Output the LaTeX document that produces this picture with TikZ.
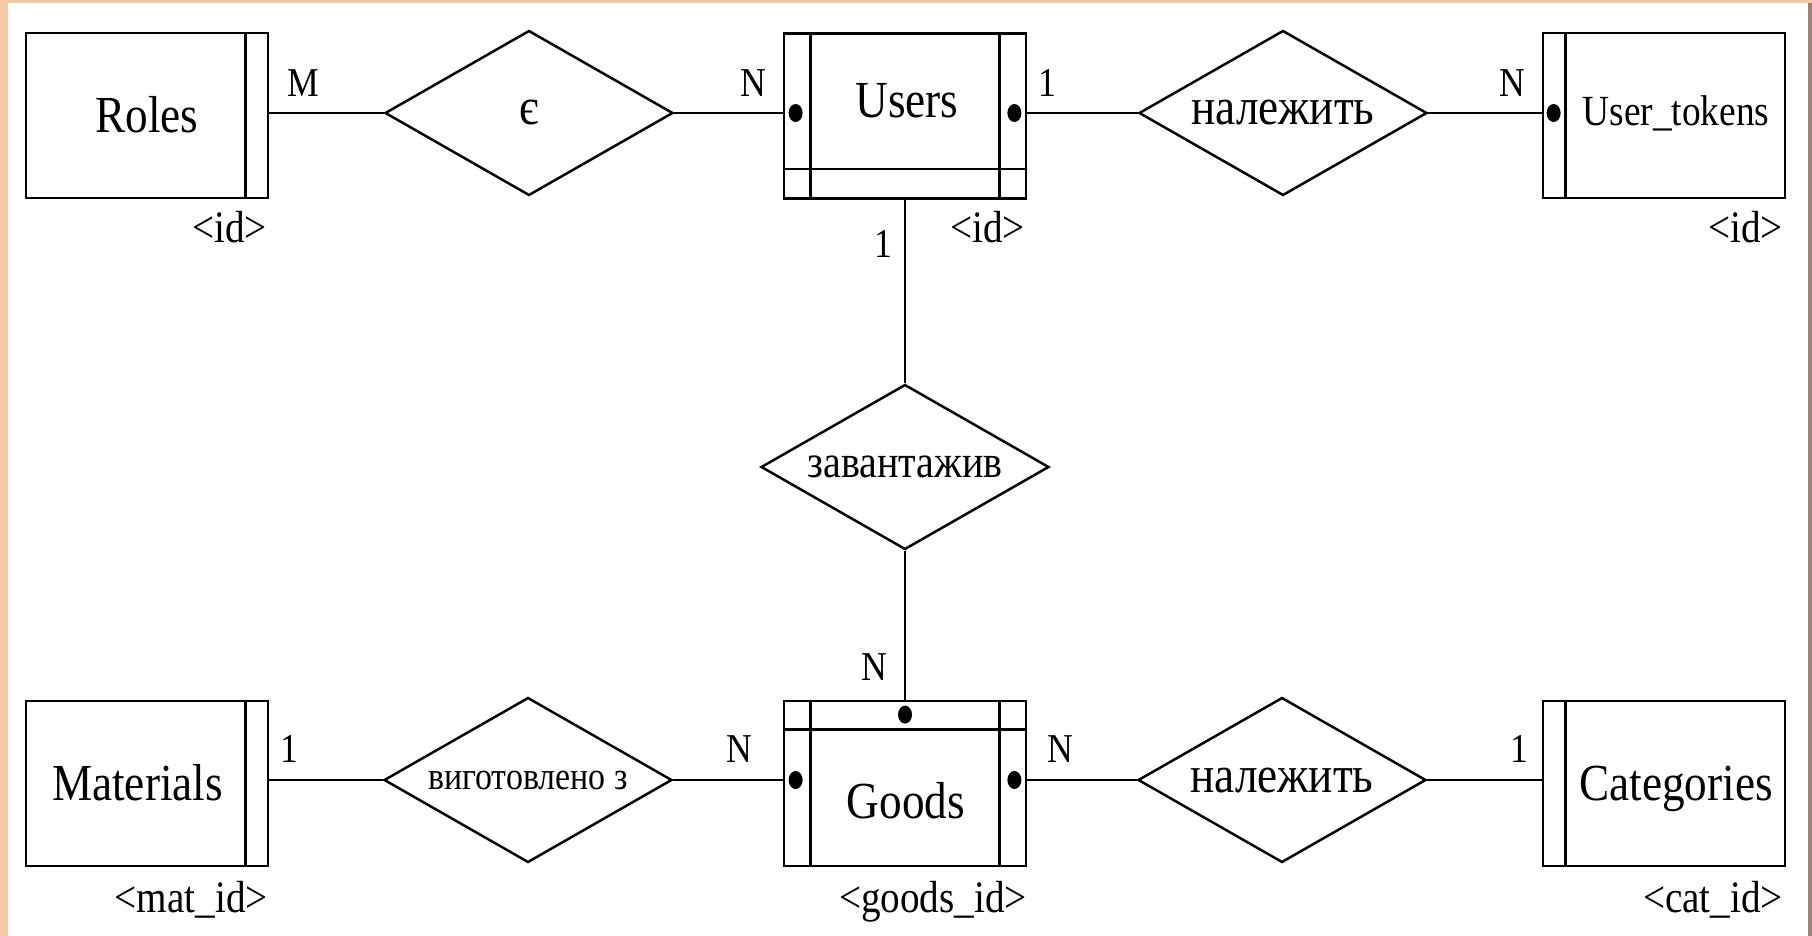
\documentclass[tikz,border=0pt]{standalone}
\usepackage{fontspec}
\setmainfont{Liberation Serif}[FakeStretch=0.87]
\usetikzlibrary{shapes.geometric,calc}
\definecolor{peach}{HTML}{F6C9A0}
\definecolor{edgebrown}{HTML}{9C8474}
\tikzset{
 ent/.style={draw, line width=2.8pt, minimum width=242pt, minimum height=165pt, inner sep=0pt},
 rel/.style={draw, diamond, aspect=1.75, line width=2.5pt, minimum width=288pt, minimum height=165pt, inner sep=0pt, font=\fontsize{52}{60}\selectfont},
 link/.style={line width=2.8pt},
 sub/.style={line width=2.4pt},
 etext/.style={anchor=base, font=\fontsize{52}{60}\selectfont, inner sep=0pt},
 card/.style={anchor=base, font=\fontsize{41}{48}\selectfont, inner sep=0pt},
 keyl/.style={anchor=base east, font=\fontsize{45}{52}\selectfont, inner sep=0pt},
 dotm/.style={fill, ellipse, minimum width=14pt, minimum height=18pt, inner sep=0pt},
}
\begin{document}
\begin{tikzpicture}[x=1pt,y=-1pt]
\useasboundingbox (0,0) rectangle (1812,936);
\fill[peach] (0,0) rectangle (1812,936);
\fill[white] (8,3) rectangle (1808,936);
\fill[edgebrown] (1808,3) rectangle (1812,936);

% entities
\node[ent] (roles) at (147,115.5) {};
\node[ent] (users) at (905,116) {};
\node[ent] (tokens) at (1664,115.5) {};
\node[ent] (materials) at (147,783.5) {};
\node[ent] (goods) at (905,783.5) {};
\node[ent] (categories) at (1664,783.5) {};

% inner lines
\draw[sub] ($(roles.north east)+(-24,0)$) -- ($(roles.south east)+(-24,0)$);
\draw[sub] ($(materials.north east)+(-24,0)$) -- ($(materials.south east)+(-24,0)$);
\draw[sub] ($(tokens.north west)+(24,0)$) -- ($(tokens.south west)+(24,0)$);
\draw[sub] ($(categories.north west)+(24,0)$) -- ($(categories.south west)+(24,0)$);
\draw[sub] ($(users.north west)+(28,0)$) -- ($(users.south west)+(28,0)$);
\draw[sub] ($(users.north east)+(-28,0)$) -- ($(users.south east)+(-28,0)$);
\draw[sub] ($(users.south west)+(0,-31)$) -- ($(users.south east)+(0,-31)$);
\draw[sub] ($(goods.north west)+(28,0)$) -- ($(goods.south west)+(28,0)$);
\draw[sub] ($(goods.north east)+(-28,0)$) -- ($(goods.south east)+(-28,0)$);
\draw[sub] ($(goods.north west)+(0,30)$) -- ($(goods.north east)+(0,30)$);

% entity texts
\node[etext] (tRoles) at (147,133) {Roles};
\node[etext] (tUsers) at (907,118) {Users};
\node[etext, font=\fontsize{43}{50}\selectfont] (tTokens) at (1676,126) {User\_tokens};
\node[etext] (tMaterials) at (137.5,800) {Materials};
\node[etext] (tGoods) at (906,818) {Goods};
\node[etext] (tCategories) at (1676,800) {Categories};

% relations
\node[rel] (r1) at (529,113) {є};
\node[rel] (r2) at (1283,113) {належить};
\node[rel, font=\fontsize{46}{54}\selectfont] (r3) at (905,467) {завантажив};
\node[rel, font=\fontsize{39}{46}\selectfont] (r4) at (528,780) {виготовлено з};
\node[rel] (r5) at (1282,780) {належить};

% connectors
\draw[link] (roles.east |- r1.west) -- (r1.west);
\draw[link] (r1.east) -- (users.west |- r1.east);
\draw[link] (users.east |- r2.west) -- (r2.west);
\draw[link] (r2.east) -- (tokens.west |- r2.east);
\draw[link] (users.south) -- (r3.north);
\draw[link] (r3.south) -- (goods.north);
\draw[link] (materials.east |- r4.west) -- (r4.west);
\draw[link] (r4.east) -- (goods.west |- r4.east);
\draw[link] (goods.east |- r5.west) -- (r5.west);
\draw[link] (r5.east) -- (categories.west |- r5.east);

% dots
\node[dotm] (d1) at ($(users.west |- r1.east)+(13,0)$) {};
\node[dotm] (d2) at ($(users.east |- r2.west)+(-13,0)$) {};
\node[dotm] (d3) at ($(tokens.west |- r2.east)+(12,0)$) {};
\node[dotm] (d4) at ($(goods.west |- r4.east)+(13,0)$) {};
\node[dotm] (d5) at ($(goods.east |- r5.west)+(-13,0)$) {};
\node[dotm] (d6) at ($(goods.north)+(0,15)$) {};

% cardinalities
\node[card] (cM) at (303,97) {M};
\node[card] (cN1) at (753,97) {N};
\node[card] (c11) at (1047,97) {1};
\node[card] (cN2) at (1512,97) {N};
\node[card] (c12) at (883,257) {1};
\node[card] (cN3) at (874,680) {N};
\node[card] (c13) at (289,762) {1};
\node[card] (cN4) at (739,762) {N};
\node[card] (cN5) at (1060,762) {N};
\node[card] (c14) at (1519,762) {1};

% keys
\node[keyl] (k1) at (267,243) {<id>};
\node[keyl] (k2) at (1025,243) {<id>};
\node[keyl] (k3) at (1783,243) {<id>};
\node[keyl] (k4) at (268,912) {<mat\_id>};
\node[keyl] (k5) at (1027,912) {<goods\_id>};
\node[keyl] (k6) at (1783,912) {<cat\_id>};
\end{tikzpicture}
\end{document}
